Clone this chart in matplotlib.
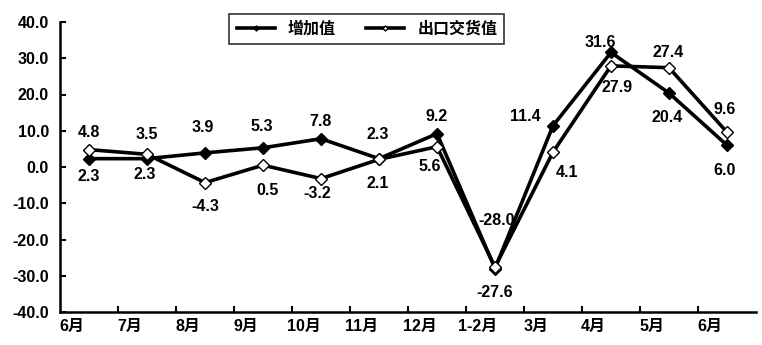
import numpy as np
import matplotlib
matplotlib.use('Agg')
import matplotlib.pyplot as plt
from matplotlib.ticker import FormatStrFormatter

plt.rcParams['font.family'] = ['Liberation Sans', 'Noto Sans CJK SC', 'DejaVu Sans']
plt.rcParams['font.weight'] = 'bold'

# дані
months = ['6月', '7月', '8月', '9月', '10月', '11月', '12月', '1-2月', '3月', '4月', '5月', '6月']
added_value = [2.3, 2.3, 3.9, 5.3, 7.8, 2.3, 9.2, -28.0, 11.4, 31.6, 20.4, 6.0]
export_value = [4.8, 3.5, -4.3, 0.5, -3.2, 2.1, 5.6, -27.6, 4.1, 27.9, 27.4, 9.6]

# зсуви підписів (пікселі)
added_off = [(0, 18), (-2, 16), (-2, -25), (-1, -21), (-1, -17), (-1, -24), (0, -17),
             (2, -48), (-28, -9), (-11, -10), (-2, 24), (-2, 25)]
export_off = [(0, -17), (0, -20), (0, 24), (5, 25), (-4, 15), (-1, 24), (-7, 20),
              (0, 25), (14, 20), (6, 22), (-1, -15), (-2, -23)]

fs = 11.5

fig = plt.figure(figsize=(7.62, 3.45), dpi=100)
ax = fig.add_axes([60 / 762, 1 - 312 / 345, 696 / 762, 290 / 345])

x = np.arange(len(months))
ax.plot(x, added_value, color='black', linewidth=2.6, marker='D', markersize=6.5,
        markerfacecolor='black', markeredgecolor='black', label='增加值', zorder=3)
ax.plot(x, export_value, color='black', linewidth=2.6, marker='D', markersize=6.5,
        markerfacecolor='white', markeredgecolor='black', markeredgewidth=1.0,
        label='出口交货值', zorder=4)

for i in range(len(months)):
    dx, dy = added_off[i]
    ax.annotate(f'{added_value[i]:.1f}', (x[i], added_value[i]),
                xytext=(dx * 0.72, -dy * 0.72), textcoords='offset points',
                ha='center', va='center', fontsize=fs, fontweight='bold')
    dx, dy = export_off[i]
    ax.annotate(f'{export_value[i]:.1f}', (x[i], export_value[i]),
                xytext=(dx * 0.72, -dy * 0.72), textcoords='offset points',
                ha='center', va='center', fontsize=fs, fontweight='bold')

ax.set_xlim(-0.5, len(months) - 0.5)
ax.set_ylim(-40, 40)
ax.set_yticks(np.arange(-40, 41, 10))
ax.yaxis.set_major_formatter(FormatStrFormatter('%.1f'))

ax.set_xticks(np.arange(0.5, len(months) - 0.5, 1))
ax.set_xticklabels([])
ax.set_xticks(x - 0.3, minor=True)
ax.set_xticklabels(months, minor=True)
ax.tick_params(axis='x', which='minor', length=0, pad=5, labelsize=fs)
ax.tick_params(axis='x', which='major', direction='in', length=4, width=1.5)
ax.tick_params(axis='y', direction='in', length=4, width=1.5, labelsize=fs, pad=8)

for s in ['top', 'right']:
    ax.spines[s].set_visible(False)
for s in ['left', 'bottom']:
    ax.spines[s].set_linewidth(1.8)

leg = ax.legend(loc='center', bbox_to_anchor=(0.441, 0.976), ncol=2, frameon=True,
                fancybox=False, edgecolor='black', markerscale=0.4,
                handlelength=2.4, columnspacing=1.9, borderpad=0.45,
                prop={'weight': 'bold', 'size': fs})
leg.get_frame().set_linewidth(1.2)
leg.set_zorder(5)

fig.savefig('out.png', dpi=100)
